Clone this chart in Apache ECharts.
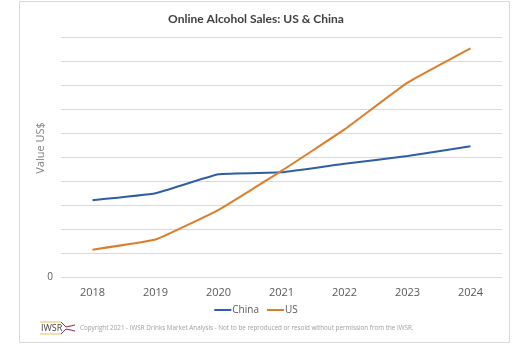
<!DOCTYPE html>
<html><head><meta charset="utf-8">
<script src="https://cdn.jsdelivr.net/npm/echarts@6/dist/echarts.min.js"></script>
<style>html,body{margin:0;padding:0;background:#fff}#c{width:512px;height:344px}</style>
</head><body><div id="c"></div>
<script>
var categories = ['2018','2019','2020','2021','2022','2023','2024'];
var chinaValues = [3.2, 3.49, 4.28, 4.36, 4.72, 5.04, 5.45];
var usValues = [1.14, 1.56, 2.8, 4.42, 6.15, 8.1, 9.53];
var seriesNames = ['China', 'US'];
var titleText = 'Online Alcohol Sales: US & China';
var yAxisTitle = 'Value US$';
var footerText = 'Copyright 2021 - IWSR Drinks Market Analysis - Not to be reproduced or resold without permission from the IWSR.';

var chart = echarts.init(document.getElementById('c'));
var font = '"Open Sans", sans-serif';
chart.setOption({
  animation: false,
  textStyle: {fontFamily: font},
  title: {text: titleText, left: 'center', top: 8, padding: [5, 5, 5, 15],
    textStyle: {fontFamily: 'Lato, "Open Sans", sans-serif', fontSize: 12, fontWeight: 'bold', color: '#404040'}},
  grid: {left: 61, right: 10, top: 37, bottom: 67},
  xAxis: {type: 'category', data: categories, boundaryGap: true,
    axisLine: {show: false}, axisTick: {show: false},
    axisLabel: {color: '#595959', fontSize: 11, margin: 10, fontFamily: font}},
  yAxis: {type: 'value', min: 0, max: 10, interval: 1,
    axisLine: {show: false}, axisTick: {show: false},
    splitLine: {lineStyle: {color: '#d9d9d9', width: 1}},
    axisLabel: {color: '#595959', fontSize: 10, margin: 8, fontFamily: font,
      formatter: function (v) { return v === 0 ? '0' : ''; }}},
  legend: {data: seriesNames, bottom: 24, left: 'center', icon: 'rect',
    itemWidth: 17, itemHeight: 2, itemGap: 8,
    textStyle: {color: '#595959', fontSize: 10, fontFamily: font, padding: [0,0,0,-4]}},
  series: [
    {name: seriesNames[0], type: 'line', data: chinaValues, smooth: 0.1,
      showSymbol: false, lineStyle: {color: '#2F5DA6', width: 2}, itemStyle: {color: '#2F5DA6'}},
    {name: seriesNames[1], type: 'line', data: usValues, smooth: 0.1,
      showSymbol: false, lineStyle: {color: '#DD7D2A', width: 2}, itemStyle: {color: '#DD7D2A'}}
  ],
  graphic: [
    {type: 'rect', shape: {x: 19.5, y: 1.5, width: 490, height: 341}, silent: true,
      style: {fill: 'none', stroke: '#d9d9d9', lineWidth: 1}},
    {type: 'text', x: 41, y: 148, rotation: Math.PI / 2,
      style: {text: yAxisTitle, fill: '#808080', font: '11px "Open Sans", sans-serif',
        textAlign: 'center', textVerticalAlign: 'middle'}},
    {type: 'text', x: 41, y: 328,
      style: {text: 'IWSR', fill: '#404040', font: '9px "Open Sans", sans-serif', textVerticalAlign: 'middle'}},
    {type: 'line', shape: {x1: 40, y1: 322, x2: 61, y2: 322}, style: {stroke: '#e8c15a', lineWidth: 1}},
    {type: 'line', shape: {x1: 40, y1: 334, x2: 61, y2: 334}, style: {stroke: '#e8c15a', lineWidth: 1}},
    {type: 'polyline', shape: {points: [[61,322],[66,327],[75,325]]}, style: {stroke: '#a0203c', fill: 'none', lineWidth: 1}},
    {type: 'polyline', shape: {points: [[61,334],[66,329],[75,331]]}, style: {stroke: '#7a2a6a', fill: 'none', lineWidth: 1}},
    {type: 'text', x: 80, y: 328,
      style: {text: footerText, fill: '#a0a0a0', font: '6.3px "Open Sans", sans-serif', textVerticalAlign: 'middle'}}
  ]
});
</script></body></html>
